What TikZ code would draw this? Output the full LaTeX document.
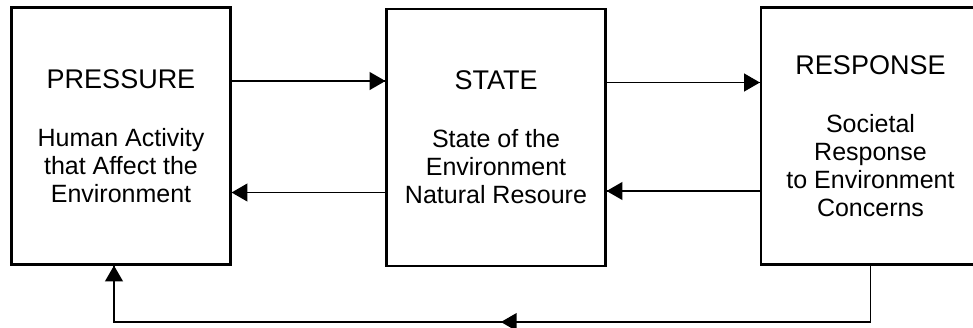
\documentclass[tikz,border=0pt]{standalone}
\usepackage{fontspec}
\setmainfont{Liberation Sans}
\usepackage{tikz}
\usetikzlibrary{arrows}
\usetikzlibrary{decorations.markings}
\usetikzlibrary{positioning}
\tikzset{flow/.style = {decoration={markings,
                                    mark=at position 1 with {\arrow[scale=1.25]{triangle 60}}},
                        postaction={decorate}}}
\tikzset{midflow/.style = {decoration={markings,
                                       mark=at position 0.49 with {\arrow[scale=1.25]{triangle 60}},
                                       mark=at position 1 with {\arrow[scale=1.25]{triangle 60}}},
                           postaction={decorate}}}
\tikzset{block/.style = {draw, line width=1.1pt, minimum width=109.5pt, minimum height=128.5pt,
                         align=center, inner sep=0pt, font=\fontsize{12.5}{14}\selectfont}}
\newcommand{\blocktitle}[1]{{\fontsize{13.5}{17}\selectfont #1}}

\begin{document}
\begin{tikzpicture}[x=0.5pt, y=-0.5pt]
    \useasboundingbox (0, 0) rectangle (973, 327);

    \node [block] (pressure) at (121, 136) {\blocktitle{PRESSURE}\\[15pt]Human Activity\\that Affect the\\Environment};
    \node [block] (state) at (496, 137.5) {\blocktitle{STATE}\\[15pt]State of the\\Environment\\Natural Resoure};
    \node [block] (response) at (870.5, 136) {\blocktitle{RESPONSE}\\[15pt]Societal\\Response\\to Environment\\Concerns};

    \draw [flow, line width=0.7pt] ([yshift=27.5pt]pressure.east) -- ([yshift=27.5pt]pressure.east -| state.west);
    \draw [flow, line width=0.7pt] ([yshift=27.5pt]state.east) -- ([yshift=27.5pt]state.east -| response.west);
    \draw [flow, line width=0.7pt] ([yshift=-27.5pt]state.west) -- ([yshift=-27.5pt]state.west -| pressure.east);
    \draw [flow, line width=0.7pt] ([yshift=-27.5pt]response.west) -- ([yshift=-27.5pt]response.west -| state.east);

    \coordinate (back) at (870.5, 322);
    \draw [midflow, line width=0.7pt] (response.south) -- (back) -| ([xshift=-3.5pt]pressure.south);
  \end{tikzpicture}
\end{document}
